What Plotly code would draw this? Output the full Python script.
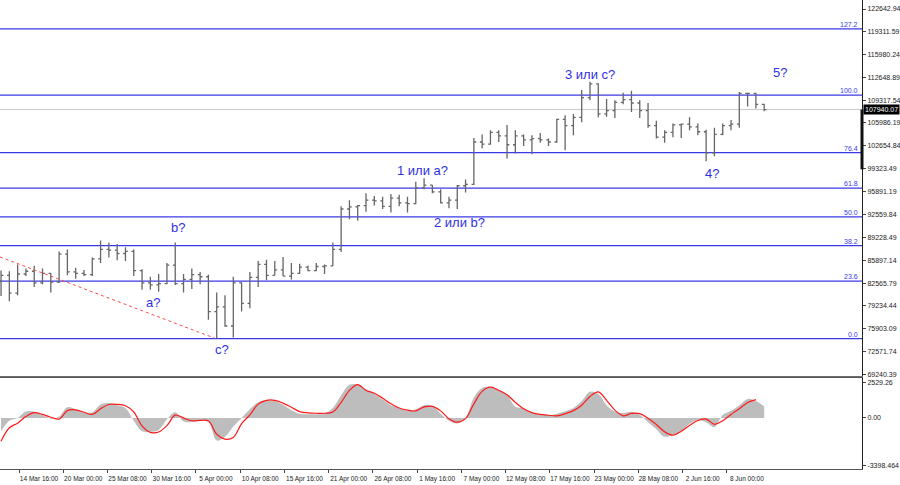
import plotly.graph_objects as go
import pandas as pd
import numpy as np

# ---------------- data (prices in thousands USD, daily bars 12 Mar - 12 Jun 2025) ----------------
dates = pd.date_range("2025-03-12 12:00", periods=93, freq="D")

open_k = [82.9, 83.7, 81.1, 83.9, 84.3, 82.6, 84.0, 82.7, 86.8, 84.2,
          84.0, 83.8, 86.1, 87.5, 87.4, 86.9, 87.2, 84.4, 82.6, 82.3,
          82.5, 85.2, 82.5, 83.1, 83.8, 83.5, 78.4, 79.1, 76.3, 82.6,
          79.6, 83.4, 85.3, 83.7, 84.5, 83.6, 84.0, 84.9, 84.4, 85.0,
          85.1, 87.5, 93.4, 93.7, 93.9, 94.7, 94.6, 93.8, 95.0, 94.3,
          94.2, 96.5, 96.9, 95.9, 94.3, 94.7, 96.8, 97.0, 103.2, 102.9,
          104.6, 104.1, 102.8, 104.1, 103.5, 103.7, 103.5, 103.2, 106.5, 105.6,
          106.8, 109.7, 111.7, 107.3, 107.8, 109.0, 109.4, 108.9, 107.8, 105.6,
          103.9, 104.6, 105.7, 105.8, 105.4, 104.7, 101.6, 104.3, 105.6, 105.8,
          110.3, 110.3, 108.7]
high_k = [84.4, 84.3, 85.3, 84.7, 85.1, 84.7, 84.0, 87.2, 87.5, 84.8,
          84.5, 86.3, 88.8, 88.5, 88.3, 87.8, 87.5, 84.6, 83.5, 83.9,
          85.5, 88.5, 83.9, 84.7, 84.2, 83.8, 81.2, 80.8, 83.5, 82.7,
          84.2, 85.8, 86.0, 85.8, 86.4, 85.5, 85.4, 85.1, 85.5, 85.3,
          88.5, 93.8, 94.7, 94.0, 95.7, 95.3, 95.2, 95.6, 95.5, 95.2,
          97.4, 97.9, 96.9, 96.3, 95.2, 96.9, 97.7, 103.8, 104.3, 104.9,
          104.9, 105.7, 104.9, 104.3, 104.2, 104.5, 103.7, 106.6, 107.1, 107.3,
          110.8, 112.0, 111.8, 109.5, 109.3, 110.4, 110.7, 109.3, 108.9, 106.3,
          104.9, 105.9, 105.9, 106.8, 105.9, 105.0, 105.3, 105.9, 106.4, 110.5,
          110.4, 110.4, 108.8]
low_k = [80.7, 79.9, 80.8, 83.6, 82.0, 82.4, 81.2, 82.6, 83.7, 83.2,
         83.6, 83.6, 85.5, 86.3, 85.9, 85.8, 83.6, 81.6, 81.6, 81.3,
         82.4, 82.3, 81.2, 81.7, 82.4, 77.2, 74.5, 76.2, 74.6, 78.4,
         78.9, 82.0, 83.0, 83.7, 83.6, 83.1, 83.9, 84.3, 84.3, 83.9,
         85.1, 87.1, 91.9, 91.7, 93.0, 93.9, 93.4, 92.9, 93.8, 92.9,
         94.1, 96.3, 95.7, 94.2, 93.5, 93.4, 95.8, 96.9, 102.3, 102.8,
         103.2, 100.8, 101.5, 102.6, 101.4, 103.1, 102.6, 103.1, 102.0, 104.2,
         106.1, 109.3, 106.8, 106.9, 106.7, 108.7, 107.6, 106.7, 105.3, 103.7,
         103.1, 103.9, 103.8, 104.9, 104.2, 100.4, 101.1, 104.2, 104.9, 105.3,
         108.4, 108.1, 107.7]
close_k = [83.7, 81.1, 83.9, 84.3, 82.6, 84.0, 82.7, 86.8, 84.2, 84.0,
           83.8, 86.1, 87.5, 87.4, 86.9, 87.2, 84.4, 82.6, 82.3, 82.5,
           85.2, 82.5, 83.1, 83.8, 83.5, 78.4, 79.1, 76.3, 82.6, 79.6,
           83.4, 85.3, 83.7, 84.5, 83.6, 84.0, 84.9, 84.4, 85.0, 85.1,
           87.5, 93.4, 93.7, 93.9, 94.7, 94.6, 93.8, 95.0, 94.3, 94.2,
           96.5, 96.9, 95.9, 94.3, 94.7, 96.8, 97.0, 103.2, 102.9, 104.6,
           104.1, 102.8, 104.1, 103.5, 103.7, 103.5, 103.2, 106.5, 105.6, 106.8,
           109.7, 111.7, 107.3, 107.8, 109.0, 109.4, 108.9, 107.8, 105.6, 103.9,
           104.6, 105.7, 105.8, 105.4, 104.7, 101.6, 104.3, 105.6, 105.8, 110.3,
           110.3, 108.7, 107.94007]

# MACD (main line drawn as grey histogram) and red signal line
macd_hist = [-950, -200, 0, 450, 450, 200, -50, 100, 760, 620,
             400, 400, 950, 1050, 900, 690, -200, -950, -980, -850,
             -100, 400, -250, -290, -200, -300, -1600, -1340, -600, 0,
             620, 1120, 1250, 1200, 930, 550, 300, 260, 260, 300,
             700, 1600, 2350, 2360, 2050, 1700, 1300, 900, 700, 500,
             600, 900, 850, 300, -200, -400, 0, 1450, 2120, 2190,
             2000, 1650, 800, 690, 350, 250, 190, 300, 480, 700,
             1200, 1860, 1700, 900, 450, 350, 430, 200, -300, -800,
             -1340, -1200, -950, -420, -150, -300, -650, 200, 500, 900,
             1350, 1200, 810]
macd_signal = [-1650, -700, -370, 100, 370, 250, 50, -80, 520, 570,
               400, 250, 650, 950, 960, 860, 420, -560, -1020, -1000,
               -550, 200, 0, -200, -180, -200, -1150, -1500, -1380, -400,
               210, 980, 1250, 1250, 1050, 760, 450, 360, 330, 330,
               420, 1100, 1950, 2360, 1950, 1750, 1400, 1000, 700, 550,
               500, 780, 820, 500, -50, -300, -50, 1000, 1880, 2180,
               1960, 1650, 1100, 650, 380, 250, 190, 150, 300, 520,
               900, 1520, 1850, 1250, 550, 150, 320, 300, -30, -470,
               -980, -1220, -950, -530, -180, -80, -450, -200, 250, 650,
               1100, 1300, 1250]

# Fibonacci grid
fib_low = 74450.0
fib_high = 110050.0
fib_ratios = [0.0, 23.6, 38.2, 50.0, 61.8, 76.4, 100.0, 127.2]
fib_labels = ["0.0", "23.6", "38.2", "50.0", "61.8", "76.4", "100.0", "127.2"]

current_price = 107940.07
axis_bar_low = 99200.0   # thick segment on the price scale (from current price down)

# red dashed trend line (two anchor points)
trend_dates = ["2025-03-12 09:00", "2025-04-07 07:00"]
trend_prices = [86400, 74500]

# wave labels
wave_text = ["b?", "a?", "c?", "1 или a?", "2 или b?", "3 или c?", "4?", "5?"]
wave_dates = ["2025-04-02 20:00", "2025-03-30 19:30", "2025-04-08 03:00", "2025-05-02 06:00",
              "2025-05-06 17:00", "2025-05-22 12:00", "2025-06-06 05:00", "2025-06-14 09:30"]
wave_prices = [90770, 79800, 72930, 99100, 91500, 113000, 98660, 113290]

# axis ticks
price_ticks = [122642.94, 119311.59, 115980.24, 112648.89, 109317.54, 105986.19, 102654.84,
               99323.49, 95891.19, 92559.84, 89228.49, 85897.14, 82565.79, 79234.44,
               75903.09, 72571.74, 69240.39]
macd_ticks = [2529.26, 0.0, -3398.464]
macd_tick_text = ["2529.26", "0.00", "-3398.464"]
date_ticks = ["2025-03-14 16:00", "2025-03-20 00:00", "2025-03-25 08:00", "2025-03-30 16:00",
              "2025-04-05 00:00", "2025-04-10 08:00", "2025-04-15 16:00", "2025-04-21 00:00",
              "2025-04-26 08:00", "2025-05-01 16:00", "2025-05-07 00:00", "2025-05-12 08:00",
              "2025-05-17 16:00", "2025-05-23 00:00", "2025-05-28 08:00", "2025-06-02 16:00",
              "2025-06-08 00:00"]
date_tick_text = ["14 Mar 16:00", "20 Mar 00:00", "25 Mar 08:00", "30 Mar 16:00", "5 Apr 00:00",
                  "10 Apr 08:00", "15 Apr 16:00", "21 Apr 00:00", "26 Apr 08:00", "1 May 16:00",
                  "7 May 00:00", "12 May 08:00", "17 May 16:00", "23 May 00:00", "28 May 08:00",
                  "2 Jun 16:00", "8 Jun 00:00"]

x_range = ["2025-03-12 09:00", "2025-06-24 07:00"]

# ---------------- figure ----------------
BLUE = "#3a3ae8"
FONT = "Liberation Sans"

o = np.array(open_k) * 1000
h = np.array(high_k) * 1000
l = np.array(low_k) * 1000
c = np.array(close_k) * 1000

fig = go.Figure()

fig.add_trace(go.Ohlc(
    x=dates, open=o, high=h, low=l, close=c,
    increasing=dict(line=dict(color="#666666", width=1.3)),
    decreasing=dict(line=dict(color="#666666", width=1.3)),
    tickwidth=0.28, xaxis="x", yaxis="y", showlegend=False, hoverinfo="skip"))

fig.add_trace(go.Scatter(
    x=trend_dates, y=trend_prices, mode="lines",
    line=dict(color="#ff4a4a", width=1, dash="dot"),
    xaxis="x", yaxis="y", showlegend=False, hoverinfo="skip"))

fig.add_trace(go.Scatter(
    x=dates, y=macd_hist, mode="lines", line=dict(width=0, color="#bdbdbd", shape="spline"),
    fill="tozeroy", fillcolor="#bdbdbd", xaxis="x2", yaxis="y2",
    showlegend=False, hoverinfo="skip"))

fig.add_trace(go.Scatter(
    x=dates[:-1], y=macd_signal[:-1], mode="lines", line=dict(width=1.2, color="#ff1a1a", shape="spline"),
    xaxis="x2", yaxis="y2", showlegend=False, hoverinfo="skip"))

shapes = []
annotations = []
for r, lab in zip(fib_ratios, fib_labels):
    lvl = fib_low + (fib_high - fib_low) * r / 100.0
    shapes.append(dict(type="line", xref="paper", x0=0, x1=1, yref="y", y0=lvl, y1=lvl,
                       line=dict(color=BLUE, width=1.2), layer="below"))
    annotations.append(dict(xref="paper", x=0.998, xanchor="right", yref="y", y=lvl,
                            yanchor="bottom", text=lab, showarrow=False,
                            font=dict(family=FONT, size=7, color=BLUE), yshift=-1))

shapes.append(dict(type="line", xref="paper", x0=0, x1=1, yref="y", y0=current_price, y1=current_price,
                   line=dict(color="#c8c8c8", width=1), layer="below"))
shapes.append(dict(type="line", xref="paper", x0=1, x1=1, yref="y", y0=axis_bar_low, y1=current_price,
                   line=dict(color="#111111", width=3)))

for t, d, p in zip(wave_text, wave_dates, wave_prices):
    annotations.append(dict(xref="x", yref="y", x=d, y=p, text=t, showarrow=False,
                            font=dict(family=FONT, size=13, color="#2f2fe6"),
                            xanchor="center", yanchor="middle"))

annotations.append(dict(xref="paper", x=1.0, xanchor="left", yref="y", y=current_price,
                        yanchor="middle", text="107940.07", showarrow=False, xshift=1,
                        bgcolor="#000000", borderpad=1,
                        font=dict(family=FONT, size=7, color="#ffffff")))

tickfont = dict(family=FONT, size=7, color="#222222")

fig.update_layout(
    width=900, height=485,
    margin=dict(l=0, r=38, t=0, b=16),
    paper_bgcolor="white", plot_bgcolor="white",
    shapes=shapes, annotations=annotations,
    xaxis=dict(domain=[0, 1], anchor="y", type="date", range=x_range, matches="x2",
               showticklabels=False, showgrid=False, zeroline=False, ticks="",
               showline=True, linecolor="#6e6e6e", linewidth=1.5,
               rangeslider=dict(visible=False)),
    xaxis2=dict(domain=[0, 1], anchor="y2", type="date", range=x_range,
                showgrid=False, zeroline=False, showline=True, mirror=True,
                linecolor="#555555", linewidth=1, automargin=False,
                tickmode="array", tickvals=date_ticks, ticktext=date_tick_text, tickangle=0,
                ticks="outside", ticklen=3, tickcolor="#444444", ticklabelshift=20,
                tickfont=dict(family=FONT, size=6.5, color="#222222")),
    yaxis=dict(domain=[93 / 469, 1], anchor="x", side="right", range=[68988, 123959],
               tickmode="array", tickvals=price_ticks, ticktext=[f"{v:.2f}" for v in price_ticks],
               ticks="outside", ticklen=3, tickcolor="#444444", automargin=False,
               showline=True, linecolor="#222222", linewidth=1,
               showgrid=False, zeroline=False, tickfont=tickfont),
    yaxis2=dict(domain=[0, 91 / 469], anchor="x2", side="right", range=[-3620, 2830],
                tickmode="array", tickvals=macd_ticks, ticktext=macd_tick_text,
                ticks="outside", ticklen=3, tickcolor="#444444", automargin=False,
                showline=True, linecolor="#222222", linewidth=1,
                showgrid=False, zeroline=False, tickfont=tickfont),
)

fig.write_html("out.html", config={"displayModeBar": False},
               post_script="document.body.style.margin='0';document.body.style.overflow='hidden';")
